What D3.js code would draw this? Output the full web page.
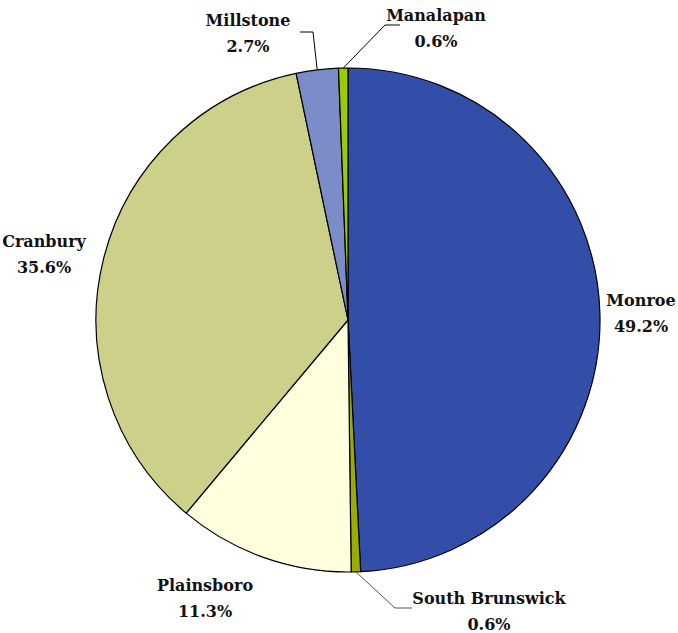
<!DOCTYPE html>
<html>
<head>
<meta charset="utf-8">
<script src="https://cdn.jsdelivr.net/npm/d3@7"></script>
<style>
  html, body { margin: 0; padding: 0; background: #fff; }
</style>
</head>
<body>
<svg id="chart" width="678" height="633"></svg>
<script>
// Share of total by municipality (percent), clockwise from 12 o'clock
const categories = ["Monroe", "South Brunswick", "Plainsboro", "Cranbury", "Millstone", "Manalapan"];
const shares = [49.2, 0.6, 11.3, 35.6, 2.7, 0.6];
const shareLabels = ["49.2%", "0.6%", "11.3%", "35.6%", "2.7%", "0.6%"];
const colors = ["#334ea8", "#9aac00", "#ffffdd", "#ccd088", "#7b8cc8", "#99cc00"];

const svg = d3.select("#chart");
const cx = 348, cy = 320, r = 252;

const pie = d3.pie().sort(null).value(d => d)(shares);
const arc = d3.arc().innerRadius(0).outerRadius(r);

const g = svg.append("g").attr("transform", `translate(${cx},${cy})`);

g.selectAll("path.slice")
  .data(pie)
  .join("path")
  .attr("class", "slice")
  .attr("d", arc)
  .attr("fill", (d, i) => colors[i])
  .attr("stroke", "#000")
  .attr("stroke-width", 1.2)
  .attr("stroke-linejoin", "round");

// Label placement (center x, baseline of first line) per category
const labelPos = [
  [641, 306],
  [489, 604],
  [205, 591],
  [44, 247],
  [248, 26],
  [436, 21]
];

const labels = svg.selectAll("g.lbl")
  .data(categories)
  .join("g")
  .attr("class", "lbl")
  .attr("transform", (d, i) => `translate(${labelPos[i][0]},${labelPos[i][1]})`)
  .attr("font-family", "'DejaVu Serif', serif")
  .attr("font-weight", "bold")
  .attr("font-size", 16)
  .attr("fill", "#111");

labels.append("text").attr("text-anchor", "middle").text(d => d);
labels.append("text").attr("text-anchor", "middle").attr("y", 26).text((d, i) => shareLabels[i]);

// Leader lines for the thin slices, anchored at each slice's mid-angle on the rim
function rimPoint(i) {
  const a = (pie[i].startAngle + pie[i].endAngle) / 2;
  return [cx + r * Math.sin(a), cy - r * Math.cos(a)];
}
const leaders = [
  { i: 4, pts: [[300, 32], [313, 32]], color: "#000" },
  { i: 5, pts: [[400, 25], [385, 25]], color: "#000" },
  { i: 1, pts: [[412, 608], [395, 608]], color: "#555" }
];
leaders.forEach(l => {
  const pts = l.pts.concat([rimPoint(l.i)]);
  svg.append("path")
    .attr("d", d3.line()(pts))
    .attr("fill", "none")
    .attr("stroke", l.color)
    .attr("stroke-width", 1);
});
</script>
</body>
</html>
